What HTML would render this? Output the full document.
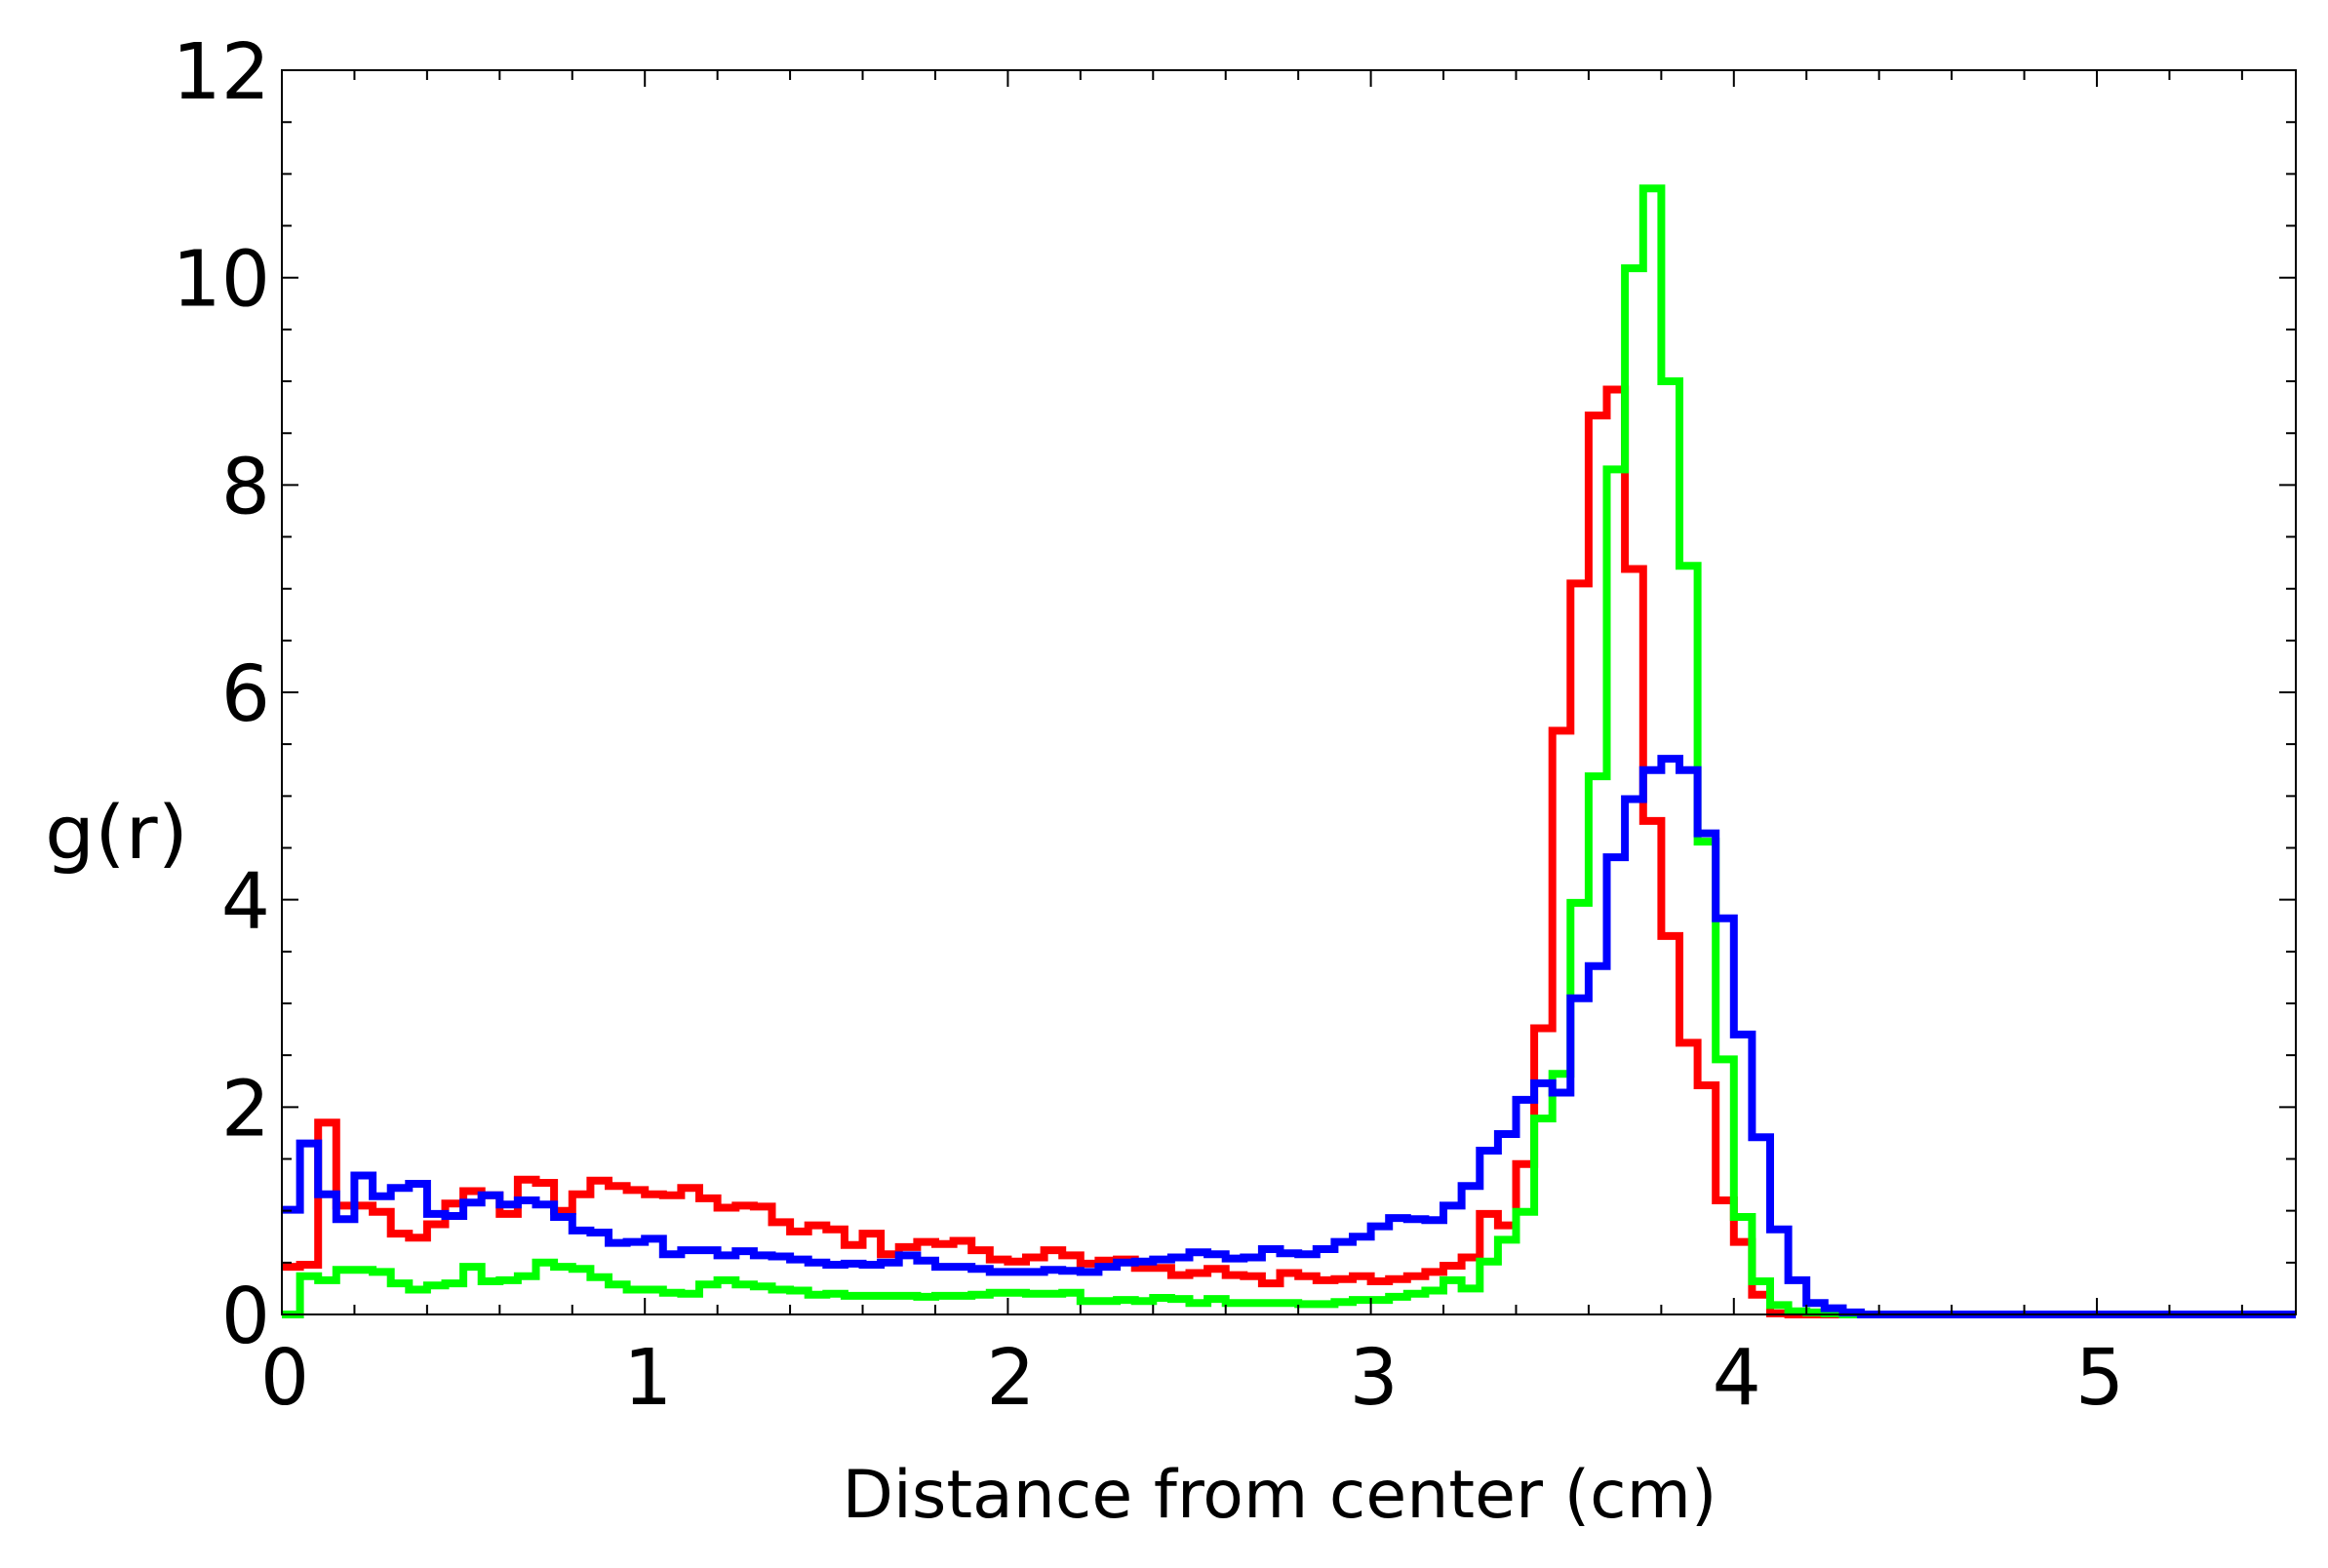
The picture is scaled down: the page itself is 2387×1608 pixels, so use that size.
<!DOCTYPE html>
<html><head><meta charset="utf-8">
<style>
html,body{margin:0;padding:0;background:#fff;}
svg{display:block;}
text{font-family:"DejaVu Sans","Liberation Sans",sans-serif;fill:#000;}
</style></head>
<body>
<svg id="s" width="2387" height="1608" viewBox="0 0 2387 1608" xmlns="http://www.w3.org/2000/svg">
<defs><clipPath id="c"><rect x="289" y="72" width="2065" height="1280"/></clipPath></defs>
<rect width="2387" height="1608" fill="#fff"/>
<g id="series" clip-path="url(#c)" fill="none" stroke-width="8" stroke-linejoin="miter" stroke-linecap="butt"></g>
<g id="axes" stroke="#000" stroke-width="2" fill="none"></g>
<g id="labels" font-size="79"></g>
<text x="1312" y="1556" font-size="68" text-anchor="middle" textLength="897" lengthAdjust="spacingAndGlyphs">Distance from center (cm)</text>
<text x="46" y="880" font-size="76" textLength="147" lengthAdjust="spacingAndGlyphs">g(r)</text>
</svg>
<script>
var X0=289,XS=372.2,Y0=1348,YS=106.33,BW=0.05,XMAX=5.548;
function px(x){return X0+x*XS;}
function py(v){return Y0-v*YS;}
var red=[0.46,0.48,1.85,1.05,1.05,0.99,0.78,0.74,0.87,1.07,1.19,1.15,0.97,1.30,1.27,1.0,1.16,1.29,1.24,1.20,1.16,1.15,1.22,1.12,1.03,1.05,1.04,
0.89,0.80,0.86,0.82,0.67,0.78,0.58,0.65,0.70,0.68,0.71,0.62,0.53,0.51,0.55,0.62,0.57,0.49,0.52,0.53,0.45,0.45,0.38,0.40,0.44,0.38,0.37,
0.30,0.40,0.37,0.33,0.34,0.37,0.32,0.34,0.37,0.41,0.47,0.55,0.97,0.86,1.45,2.76,
5.63,7.05,8.67,8.92,7.19,4.76,3.65,2.62,2.21,1.10,0.70,0.19,0.01];
var blue=[1.01,1.65,1.16,0.92,1.34,1.14,1.22,1.26,0.97,0.95,1.08,1.15,1.06,1.10,1.06,0.94,0.81,0.79,0.69,0.70,0.73,0.58,0.62,0.62,0.57,0.61,0.57,
0.56,0.53,0.50,0.48,0.49,0.48,0.50,0.57,0.52,0.46,0.46,0.44,0.41,0.41,0.41,0.43,0.42,0.41,0.46,0.50,0.51,0.53,0.55,0.60,0.58,0.54,0.55,
0.63,0.59,0.58,0.63,0.70,0.75,0.85,0.93,0.92,0.91,1.05,1.24,1.58,1.74,2.07,2.23,
2.14,3.05,3.36,4.41,4.97,5.25,5.36,5.25,4.64,3.82,2.70,1.71,0.82,0.33,0.11,0.06,0.02];
var green=[0,0.37,0.33,0.43,0.43,0.41,0.30,0.24,0.28,0.30,0.46,0.32,0.33,0.37,0.50,0.46,0.44,0.36,0.29,0.24,0.24,0.21,0.20,0.29,0.33,0.29,0.27,
0.24,0.23,0.19,0.20,0.18,0.18,0.18,0.18,0.17,0.18,0.18,0.19,0.21,0.21,0.20,0.20,0.21,0.13,0.13,0.14,0.13,0.16,0.15,0.11,0.15,0.11,0.11,
0.11,0.11,0.10,0.10,0.12,0.14,0.14,0.17,0.20,0.23,0.33,0.25,0.51,0.72,0.99,1.89,
2.32,3.97,5.19,8.15,10.09,10.86,9.0,7.22,4.56,2.46,0.94,0.32,0.09,0.03,0.02,0.01];
var NS="http://www.w3.org/2000/svg";
function path(arr,color){
  var n=Math.ceil(XMAX/BW)+1,d="";
  for(var k=0;k<n;k++){
    var v=k<arr.length?arr[k]:0;
    var x=px(k*BW),y=py(v);
    if(k==0)d+="M"+x.toFixed(1)+" "+y.toFixed(1);
    else d+="V"+y.toFixed(1);
    d+="H"+px(Math.min((k+1)*BW,XMAX+0.02)).toFixed(1);
  }
  var p=document.createElementNS(NS,"path");
  p.setAttribute("d",d);p.setAttribute("stroke",color);
  document.getElementById("series").appendChild(p);
}
path(red,"#ff0000");path(green,"#00ff00");path(blue,"#0000ff");
var ax=document.getElementById("axes"),d="M289 72H2354V1348H289Z";
for(var i=0;i*0.2<=XMAX+1e-6;i++){
  var x=px(i*0.2),L=(i%5==0)?17:10;
  d+="M"+x+" 1348V"+(1348-L)+"M"+x+" 72V"+(72+L);
}
for(var j=0;j<=24;j++){
  var y=py(j*0.5),L=(j%4==0)?17:10;
  d+="M289 "+y+"H"+(289+L)+"M2354 "+y+"H"+(2354-L);
}
var p=document.createElementNS(NS,"path");p.setAttribute("d",d);ax.appendChild(p);
var lb=document.getElementById("labels");
function txt(s,x,y,a){var t=document.createElementNS(NS,"text");t.setAttribute("x",x);t.setAttribute("y",y);t.setAttribute("text-anchor",a);t.textContent=s;lb.appendChild(t);}
for(var v=0;v<=12;v+=2)txt(String(v),277,py(v)+29,"end");
for(var c=0;c<=5;c++)txt(String(c),px(c)+3,1440,"middle");
</script>
</body></html>
